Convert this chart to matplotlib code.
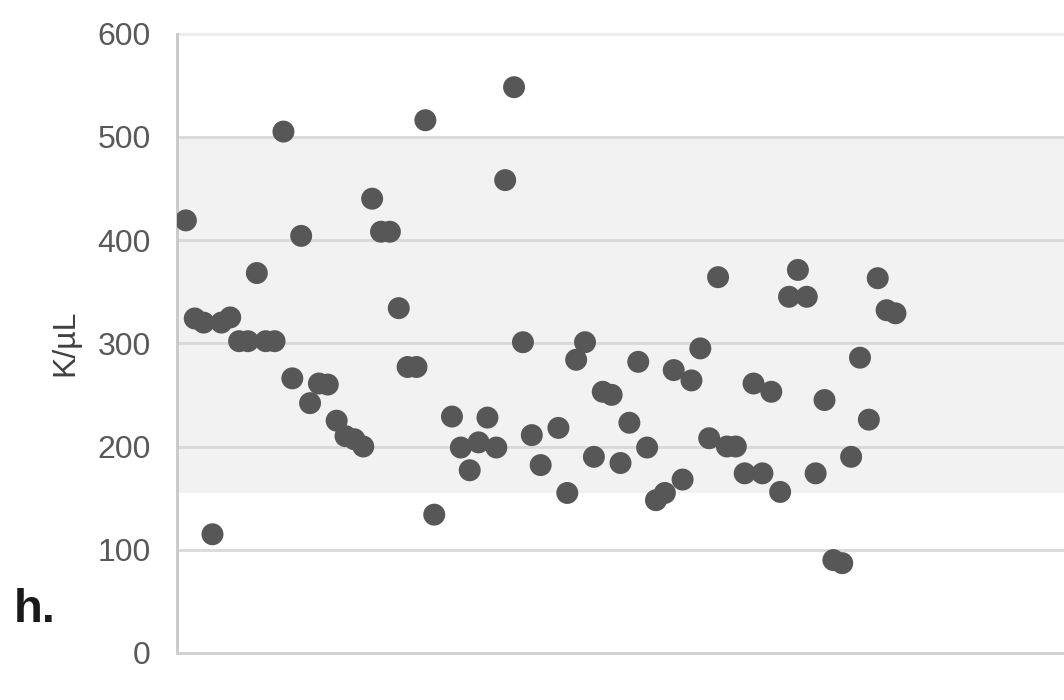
import numpy as np
import matplotlib
matplotlib.use("Agg")
import matplotlib.pyplot as plt

# Sample number (two samples, 30 and 42, have no result)
sample = [1, 2, 3, 4, 5, 6, 7, 8, 9, 10, 11, 12, 13, 14, 15, 16, 17, 18, 19, 20,
          21, 22, 23, 24, 25, 26, 27, 28, 29, 31, 32, 33, 34, 35, 36, 37, 38, 39,
          40, 41, 43, 44, 45, 46, 47, 48, 49, 50, 51, 52, 53, 54, 55, 56, 57, 58,
          59, 60, 61, 62, 63, 64, 65, 66, 67, 68, 69, 70, 71, 72, 73, 74, 75, 76,
          77, 78, 79, 80, 81]

# Platelet count, K/µL
platelets = [419, 324, 320, 115, 320, 325, 302, 302, 368, 302, 302, 505, 266, 404,
             242, 261, 260, 225, 210, 207, 200, 440, 408, 408, 334, 277, 277, 516,
             134, 229, 199, 177, 204, 228, 199, 458, 548, 301, 211, 182, 218, 155,
             284, 301, 190, 253, 250, 184, 223, 282, 199, 148, 155, 274, 168, 264,
             295, 208, 364, 200, 200, 174, 261, 174, 253, 156, 345, 371, 345, 174,
             245, 90, 87, 190, 286, 226, 363, 332, 329]

# Reference range shown as a shaded band
ref_low, ref_high = 155, 500

y_ticks = [0, 100, 200, 300, 400, 500, 600]
panel_label = "h."
y_label = "K/µL"

plt.rcParams["font.family"] = ["Liberation Sans", "DejaVu Sans"]

fig = plt.figure(figsize=(10.64, 7.0), dpi=100)
ax = fig.add_axes([177 / 1064, 47 / 700, 1 - 177 / 1064, (653 - 33.5) / 700])

ax.axhspan(ref_low, ref_high, color="#f2f2f2", zorder=0, lw=0)
for t in y_ticks[1:-1]:
    ax.axhline(t, color="#d9d9d9", lw=2.0, zorder=1)
ax.axhline(y_ticks[-1], color="#ececec", lw=2.0, zorder=1, clip_on=False)

ax.scatter(sample, platelets, s=250, color="#575757", edgecolors="none", zorder=3)

ax.set_xlim(0, 100)
ax.set_ylim(0, 600)
ax.set_yticks(y_ticks)
ax.set_yticklabels([str(t) for t in y_ticks], fontsize=23, color="#595959")
ax.set_xticks([])
ax.tick_params(axis="y", length=0, pad=19)

for side in ("top", "right"):
    ax.spines[side].set_visible(False)
ax.spines["left"].set_color("#c8c8c8")
ax.spines["left"].set_linewidth(2.0)
ax.spines["bottom"].set_color("#d0d0d0")
ax.spines["bottom"].set_linewidth(2.0)

fig.text(65 / 1064, 1 - 343 / 700, y_label, rotation=90, ha="center", va="center",
         fontsize=23, color="#404040")
fig.text(14 / 1064, 1 - 610 / 700, panel_label, ha="left", va="center",
         fontsize=34, fontweight="bold", color="#1a1a1a")

fig.savefig("out.png", dpi=100)
